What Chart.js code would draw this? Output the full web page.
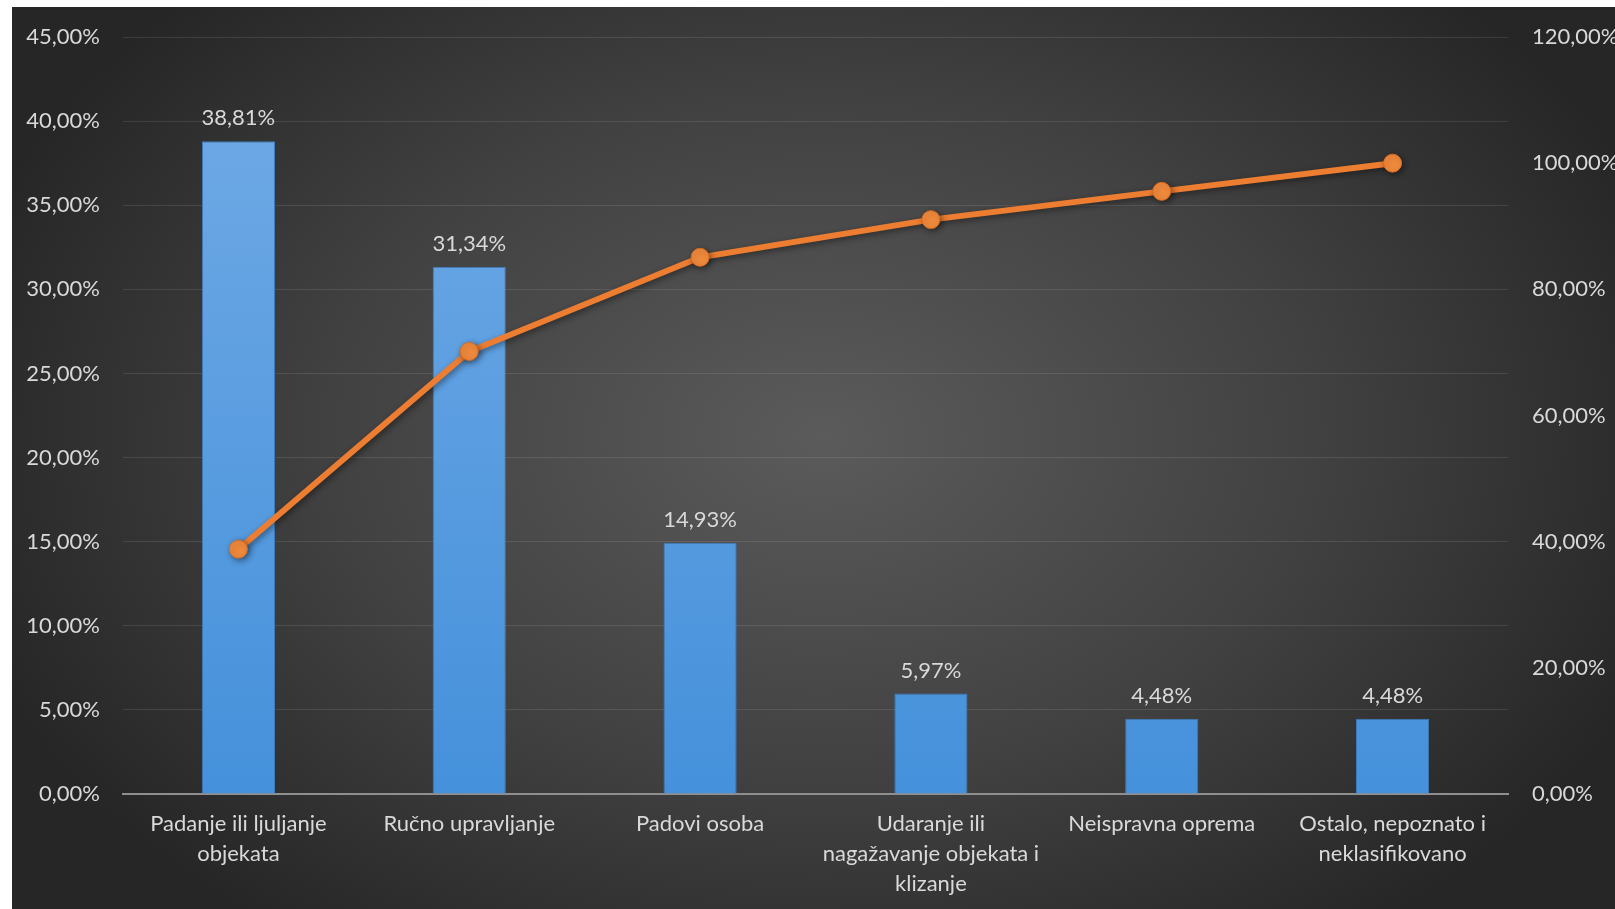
<!DOCTYPE html>
<html>
<head>
<meta charset="utf-8">
<script src="https://cdn.jsdelivr.net/npm/chart.js@4"></script>
<style>
  html, body { margin: 0; padding: 0; background: #fff; }
  #wrap {
    position: absolute; left: 12px; top: 7px; width: 1603px; height: 902px;
    background: radial-gradient(ellipse 900px 620px at 810px 430px, #5b5b5b 0%, #414141 55%, #262626 100%);
  }
</style>
</head>
<body>
<div id="wrap"><canvas id="paretoChart"></canvas></div>
<script>
const categories = [
  ["Padanje ili ljuljanje", "objekata"],
  ["Ručno upravljanje"],
  ["Padovi osoba"],
  ["Udaranje ili", "nagažavanje objekata i", "klizanje"],
  ["Neispravna oprema"],
  ["Ostalo, nepoznato i", "neklasifikovano"]
];
const shares = [38.81, 31.34, 14.93, 5.97, 4.48, 4.48];
const cumulative = [38.81, 70.15, 85.08, 91.05, 95.53, 100.00];

const textColor = '#d9d9d9';
const fontFamily = 'Lato, "Open Sans", sans-serif';

function pct(v) {
  return v.toFixed(2).replace('.', ',') + '%';
}

const ctx = document.getElementById('paretoChart').getContext('2d');

// value labels above the bars
const barLabels = {
  id: 'barLabels',
  afterDatasetsDraw(chart) {
    const c = chart.ctx;
    const meta = chart.getDatasetMeta(1);
    c.save();
    c.fillStyle = textColor;
    c.font = '22px ' + fontFamily;
    c.textAlign = 'center';
    c.textBaseline = 'middle';
    meta.data.forEach((bar, i) => {
      c.fillText(pct(shares[i]), bar.x, bar.y - 23);
    });
    c.restore();
  }
};

// soft shadow under the line
const lineShadow = {
  id: 'lineShadow',
  beforeDatasetDraw(chart, args) {
    if (args.index !== 0) return;
    chart.ctx.save();
    chart.ctx.shadowColor = 'rgba(0,0,0,0.45)';
    chart.ctx.shadowBlur = 6;
    chart.ctx.shadowOffsetX = 2;
    chart.ctx.shadowOffsetY = 2;
  },
  afterDatasetDraw(chart, args) {
    if (args.index !== 0) return;
    chart.ctx.restore();
  }
};

function barGradient(context) {
  const area = context.chart.chartArea;
  if (!area) return '#5b9bd5';
  const g = context.chart.ctx.createLinearGradient(0, area.top, 0, area.bottom);
  g.addColorStop(0, '#72abe6');
  g.addColorStop(1, '#4591db');
  return g;
}

new Chart(ctx, {
  data: {
    labels: categories,
    datasets: [
      {
        type: 'line',
        label: 'Kumulativno',
        data: cumulative,
        yAxisID: 'y2',
        borderColor: '#ed7d31',
        backgroundColor: '#ed7d31',
        borderWidth: 6,
        pointRadius: 9,
        pointBorderWidth: 1,
        pointBorderColor: '#d96a20',
        pointBackgroundColor: '#f08a3c',
        tension: 0,
        order: 0
      },
      {
        type: 'bar',
        label: 'Udio',
        data: shares,
        yAxisID: 'y',
        backgroundColor: barGradient,
        borderColor: '#3b7bbd',
        borderWidth: 1,
        categoryPercentage: 1,
        barPercentage: 0.317,
        order: 1
      }
    ]
  },
  options: {
    responsive: true,
    maintainAspectRatio: false,
    animation: false,
    layout: { padding: { top: 30, left: 0, right: 0, bottom: 0 } },
    plugins: {
      legend: { display: false },
      tooltip: { enabled: false }
    },
    scales: {
      x: {
        grid: { display: false, drawTicks: false },
        border: { color: '#8f8f8f', width: 2 },
        ticks: {
          color: textColor,
          font: { size: 22, family: fontFamily, lineHeight: 1.36 },
          padding: 15,
          maxRotation: 0,
          autoSkip: false
        },
        afterFit(scale) { scale.height = 115; }
      },
      y: {
        position: 'left',
        min: 0,
        max: 45,
        grid: { color: 'rgba(255,255,255,0.10)', lineWidth: 1, drawTicks: false },
        border: { display: false },
        ticks: {
          stepSize: 5,
          color: textColor,
          padding: 23,
          font: { size: 22, family: fontFamily },
          callback: v => pct(v)
        },
        afterFit(scale) {
          scale.width = 111;
          scale.paddingTop = 0;
          scale.paddingBottom = 0;
        }
      },
      y2: {
        position: 'right',
        min: 0,
        max: 120,
        grid: { display: false, drawTicks: false },
        border: { display: false },
        ticks: {
          stepSize: 20,
          color: textColor,
          padding: 24,
          font: { size: 22, family: fontFamily },
          callback: v => pct(v)
        },
        afterFit(scale) {
          scale.width = 107;
          scale.paddingTop = 0;
          scale.paddingBottom = 0;
        }
      }
    }
  },
  plugins: [barLabels, lineShadow]
});
</script>
</body>
</html>
